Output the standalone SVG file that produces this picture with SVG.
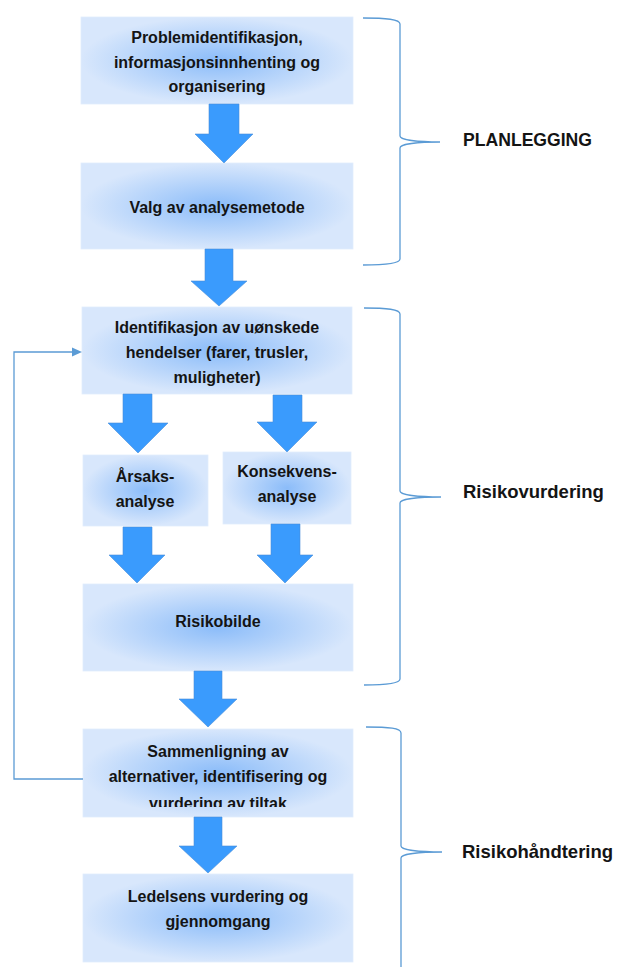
<svg xmlns="http://www.w3.org/2000/svg" width="617" height="967" viewBox="0 0 617 967">
  <style>
    .box { fill: url(#boxGrad); stroke: #e2edfc; stroke-width: 0.8; }
    .txt { font-family: "Liberation Sans", Arial, sans-serif; font-weight: bold; font-size: 16px; fill: #141414; text-anchor: middle; }
    .lbl { font-family: "Liberation Sans", Arial, sans-serif; font-weight: bold; font-size: 18.5px; fill: #141414; }
    .arrow { fill: #3a9bfd; stroke: #4b8fd8; stroke-width: 0.6; }
    .brace { fill: none; stroke: #5b9bd5; stroke-width: 1.3; }
    .fb { fill: none; stroke: #5b9bd5; stroke-width: 1.3; }
  </style>
  <defs>
    <radialGradient id="boxGrad" cx="0.5" cy="0.5" r="0.5">
      <stop offset="0" stop-color="#8bbcf9"/>
      <stop offset="1" stop-color="#d8e7fc"/>
    </radialGradient>
    <clipPath id="clip7">
      <rect x="83" y="729" width="270" height="78"/>
    </clipPath>
  </defs>
  <rect width="617" height="967" fill="#ffffff"/>

  <g id="b1">
    <rect class="box" x="81" y="17" width="272" height="87"/>
    <text class="txt" x="217" y="43">Problemidentifikasjon,</text>
    <text class="txt" x="217" y="68">informasjonsinnhenting og</text>
    <text class="txt" x="217" y="92">organisering</text>
  </g>
  <g id="b2">
    <rect class="box" x="81" y="163" width="272" height="86"/>
    <text class="txt" x="217" y="213">Valg av analysemetode</text>
  </g>
  <g id="b3">
    <rect class="box" x="82" y="307" width="270" height="87"/>
    <text class="txt" x="217" y="333">Identifikasjon av uønskede</text>
    <text class="txt" x="217" y="358">hendelser (farer, trusler,</text>
    <text class="txt" x="217" y="383">muligheter)</text>
  </g>
  <g id="b4">
    <rect class="box" x="83" y="455" width="125" height="71"/>
    <text class="txt" x="145" y="482">Årsaks-</text>
    <text class="txt" x="145" y="507">analyse</text>
  </g>
  <g id="b5">
    <rect class="box" x="223" y="452" width="128" height="72"/>
    <text class="txt" x="287" y="477">Konsekvens-</text>
    <text class="txt" x="287" y="502">analyse</text>
  </g>
  <g id="b6">
    <rect class="box" x="83" y="584" width="270" height="87"/>
    <text class="txt" x="218" y="627">Risikobilde</text>
  </g>
  <g id="b7">
    <rect class="box" x="83" y="729" width="270" height="88"/>
    <g clip-path="url(#clip7)">
      <text class="txt" x="218" y="757">Sammenligning av</text>
      <text class="txt" x="218" y="782">alternativer, identifisering og</text>
      <text class="txt" x="218" y="809">vurdering av tiltak</text>
    </g>
  </g>
  <g id="b8">
    <rect class="box" x="83" y="874" width="270" height="88"/>
    <text class="txt" x="218" y="902">Ledelsens vurdering og</text>
    <text class="txt" x="218" y="927">gjennomgang</text>
  </g>

  <g id="brace1">
    <path class="brace" d="M363,18 C386,18 400,19 400,24 L400,136 C400,140 418,142 440,142 C418,142 400,144 400,148 L400,259 C400,263 386,265 363,265"/>
    <text class="lbl" x="463" y="146" textLength="129" lengthAdjust="spacingAndGlyphs">PLANLEGGING</text>
  </g>
  <g id="brace2">
    <path class="brace" d="M364,308 C387,308 400,309 400,314 L400,491 C400,495 418,497 441,497 C418,497 400,499 400,503 L400,679 C400,683 387,685 364,685"/>
    <text class="lbl" x="463" y="498">Risikovurdering</text>
  </g>
  <g id="brace3">
    <path class="brace" d="M366,727 C389,727 401,728 401,733 L401,846 C401,850 419,852 442,852 C419,852 401,854 401,858 L401,970"/>
    <text class="lbl" x="462" y="858">Risikohåndtering</text>
  </g>

  <g id="connectors">
    <path class="arrow" d="M209,104 H239 V134 H253 L224,163 L195,134 H209 Z"/>
    <path class="arrow" d="M205,249 H233 V281 H247 L219,306 L191,281 H205 Z"/>
    <path class="arrow" d="M123,394 H152 V423 H168 L138,453 L108,423 H123 Z"/>
    <path class="arrow" d="M273,395 H302 V422 H317 L287,452 L257,422 H273 Z"/>
    <path class="arrow" d="M123,527 H152 V555 H165 L137,583 L109,555 H123 Z"/>
    <path class="arrow" d="M271,524 H300 V555 H313 L285,583 L257,555 H271 Z"/>
    <path class="arrow" d="M194,671 H222 V699 H237 L208,727 L179,699 H194 Z"/>
    <path class="arrow" d="M194,817 H222 V846 H237 L208,873 L179,846 H194 Z"/>
    <polyline class="fb" points="83,779 14,779 14,352 73,352"/>
    <polygon points="72,347.5 82,352 72,356.5" fill="#5b9bd5"/>
  </g>
</svg>
